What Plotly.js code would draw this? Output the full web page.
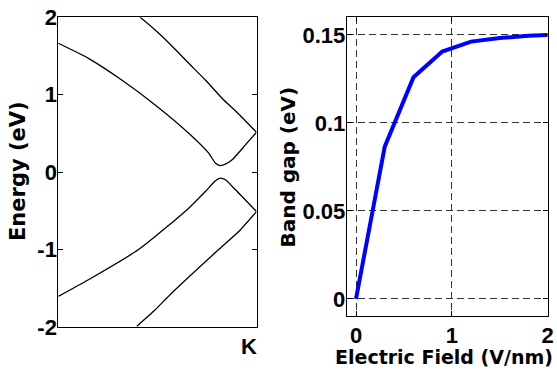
<!DOCTYPE html>
<html>
<head>
<meta charset="utf-8">
<script src="https://cdn.plot.ly/plotly-3.0.1.min.js"></script>
<style>
html,body{margin:0;padding:0;background:#fff;}
#chart{width:557px;height:370px;}
</style>
</head>
<body>
<div id="chart"></div>
<script>
// Left panel: band structure near K (arbitrary k coordinate, K at 1)
var band1K = [0.413, 0.489, 0.573, 0.658, 0.742, 0.826, 0.91, 1.0];
var band1E = [2.0, 1.836, 1.63, 1.406, 1.19, 0.955, 0.752, 0.515];
var band2K = [0, 0.152, 0.32, 0.489, 0.658, 0.759, 0.793, 0.818, 0.843, 0.877, 0.944, 1.0];
var band2E = [1.665, 1.47, 1.19, 0.868, 0.503, 0.245, 0.116, 0.085, 0.103, 0.159, 0.352, 0.515];
var band3K = [0, 0.152, 0.405, 0.658, 0.742, 0.793, 0.818, 0.843, 0.894, 1.0];
var band3E = [-1.605, -1.39, -1.0, -0.465, -0.25, -0.112, -0.078, -0.099, -0.228, -0.51];
var band4K = [0.396, 0.489, 0.573, 0.809, 0.91, 1.0];
var band4E = [-1.99, -1.777, -1.56, -1.0, -0.766, -0.51];
var energyTicks = [-2, -1, 0, 1, 2];
var kTickLabel = 'K';

// Right panel: band gap vs electric field
var field = [0, 0.3, 0.6, 0.9, 1.2, 1.5, 1.8, 2.0];
var gap = [0, 0.0865, 0.126, 0.1405, 0.1462, 0.1482, 0.1495, 0.150];
var fieldTicks = [0, 1, 2];
var gapTicks = [0, 0.05, 0.1, 0.15];
var gapTickText = ['0', '0.05', '0.1', '0.15'];

var FONT = 'Liberation Sans, Arial, sans-serif';
var TFONT = 'DejaVu Sans, sans-serif';
function bold(s){ return '<b>' + s + '</b>'; }

var bandLine = {color: '#000', width: 1.3, shape: 'spline', smoothing: 0.6};
var traces = [
  {x: band1K, y: band1E, mode: 'lines', line: bandLine, xaxis: 'x', yaxis: 'y', hoverinfo: 'skip'},
  {x: band2K, y: band2E, mode: 'lines', line: bandLine, xaxis: 'x', yaxis: 'y', hoverinfo: 'skip'},
  {x: band3K, y: band3E, mode: 'lines', line: bandLine, xaxis: 'x', yaxis: 'y', hoverinfo: 'skip'},
  {x: band4K, y: band4E, mode: 'lines', line: bandLine, xaxis: 'x', yaxis: 'y', hoverinfo: 'skip'},
  {x: field, y: gap, mode: 'lines', line: {color: '#0000ff', width: 4}, xaxis: 'x2', yaxis: 'y2', hoverinfo: 'skip'}
];

var tickFont = {family: FONT, size: 22, color: '#000', weight: 'bold'};
var W = 557, H = 370;
function px(x){ return x / W; }
function py(y){ return (H - y) / H; }

var layout = {
  width: W, height: H,
  margin: {l: 0, r: 0, t: 0, b: 0},
  paper_bgcolor: '#fff', plot_bgcolor: '#fff',
  showlegend: false,
  xaxis: {
    domain: [px(58.3), px(256.5)], range: [0, 1],
    showgrid: false, zeroline: false, showticklabels: false, ticks: '',
    showline: true, linecolor: '#000', linewidth: 1, mirror: true
  },
  yaxis: {
    domain: [py(327), py(17.3)], range: [-2, 2],
    tickvals: energyTicks, ticktext: energyTicks.map(function(v){ return bold(String(v)); }),
    ticks: 'inside', ticklen: 5, tickcolor: '#000', tickwidth: 1,
    showgrid: false, zeroline: false,
    showline: true, linecolor: '#000', linewidth: 1, mirror: 'ticks',
    tickfont: tickFont, ticklabelstandoff: -4
  },
  xaxis2: {
    domain: [px(346.7), px(547.7)], range: [-0.097, 2],
    tickvals: fieldTicks, ticktext: fieldTicks.map(function(v){ return bold(String(v)); }),
    ticks: 'inside', ticklen: 5, tickcolor: '#000', tickwidth: 1,
    showgrid: true, gridcolor: '#333', gridwidth: 1, griddash: '7px,4px',
    zeroline: false,
    showline: true, linecolor: '#000', linewidth: 1, mirror: 'ticks',
    tickfont: tickFont, ticklabelstandoff: 0, anchor: 'y2'
  },
  yaxis2: {
    domain: [py(316), py(17.3)], range: [-0.0097, 0.16],
    tickvals: gapTicks, ticktext: gapTickText.map(bold),
    ticks: 'inside', ticklen: 5, tickcolor: '#000', tickwidth: 1,
    showgrid: true, gridcolor: '#333', gridwidth: 1, griddash: '7px,4px',
    zeroline: false,
    showline: true, linecolor: '#000', linewidth: 1, mirror: 'ticks',
    tickfont: tickFont, ticklabelstandoff: -4, anchor: 'x2'
  },
  annotations: [
    {text: bold('Energy (eV)'), xref: 'paper', yref: 'paper', x: px(18), y: py(171),
     xanchor: 'center', yanchor: 'middle', textangle: -90, showarrow: false,
     font: {family: TFONT, size: 21, color: '#000'}},
    {text: bold('Band gap (eV)'), xref: 'paper', yref: 'paper', x: px(287), y: py(167.5),
     xanchor: 'center', yanchor: 'middle', textangle: -90, showarrow: false,
     font: {family: TFONT, size: 20, color: '#000'}},
    {text: bold('Electric Field (V/nm)'), xref: 'paper', yref: 'paper', x: px(444), y: py(357),
     xanchor: 'center', yanchor: 'middle', showarrow: false,
     font: {family: TFONT, size: 19, color: '#000'}},
    {text: bold(kTickLabel), xref: 'paper', yref: 'paper', x: px(249), y: py(346.5),
     xanchor: 'center', yanchor: 'middle', showarrow: false,
     font: {family: FONT, size: 22, color: '#000'}}
  ]
};

Plotly.newPlot('chart', traces, layout, {staticPlot: true, displayModeBar: false});
</script>
</body>
</html>
